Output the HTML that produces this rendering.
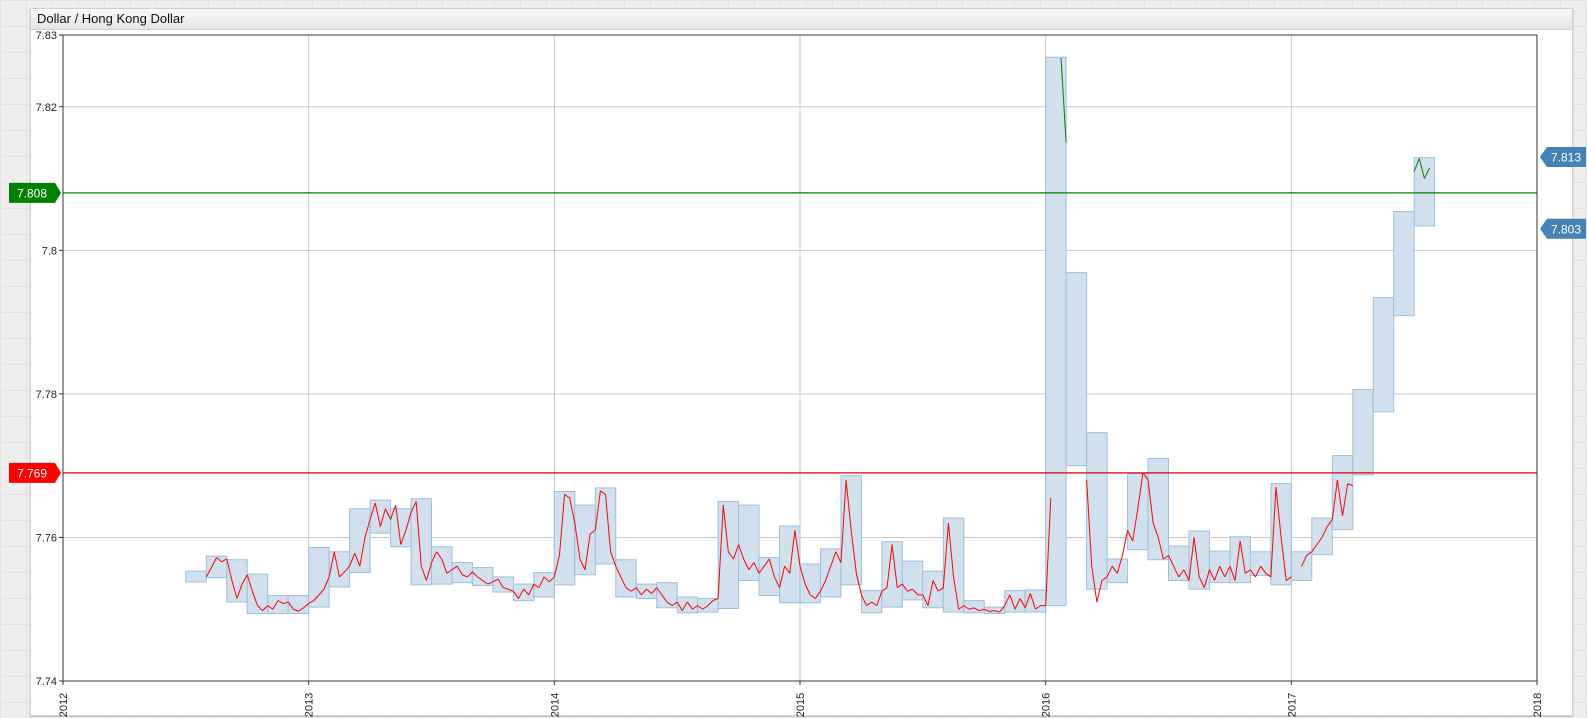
<!DOCTYPE html>
<html><head><meta charset="utf-8">
<style>
body{margin:0;width:1587px;height:718px;overflow:hidden;background:#eeeeee;
background-image:linear-gradient(#e2e2e2 1px,transparent 1px),linear-gradient(90deg,#e2e2e2 1px,transparent 1px);background-size:26px 26px;font-family:"Liberation Sans",sans-serif;}
#panel{position:absolute;left:30px;top:8px;width:1541px;height:706px;background:#fff;border:1px solid #d0d0d0;box-shadow:0 1px 2px #bbb;}
#title{position:absolute;left:0;top:0;right:0;height:20px;background:linear-gradient(#fafafa,#e4e4e4);border-bottom:1px solid #d0d0d0;font-size:13px;line-height:20px;padding-left:6px;color:#111;}
svg{position:absolute;left:0;top:0;}
</style></head><body>
<div id="panel"><div id="title">Dollar / Hong Kong Dollar</div></div>
<svg id="chart" width="1587" height="718"></svg>
<script>
const yTicks=[7.83,7.82,7.8,7.78,7.76,7.74];
const yTickLabels=["7.83","7.82","7.8","7.78","7.76","7.74"];
const xYears=[2012,2013,2014,2015,2016,2017,2018];
const boxStartMonth=6;
const boxHighs=[7.7553,7.7574,7.7569,7.7549,7.7519,7.7519,7.7586,7.7580,7.7640,7.7652,7.7640,7.7654,7.7587,7.7565,7.7558,7.7545,7.7535,7.7551,7.7664,7.7645,7.7669,7.7569,7.7535,7.7537,7.7517,7.7515,7.7650,7.7645,7.7572,7.7616,7.7563,7.7584,7.7686,7.7526,7.7594,7.7567,7.7553,7.7627,7.7512,7.7503,7.7526,7.7527,7.8269,7.7969,7.7746,7.7570,7.7689,7.7710,7.7588,7.7609,7.7581,7.7601,7.7580,7.7675,7.7580,7.7627,7.7714,7.7806,7.7934,7.8054,7.8129];
const boxLows=[7.7538,7.7544,7.7510,7.7494,7.7494,7.7494,7.7503,7.7531,7.7551,7.7606,7.7587,7.7534,7.7535,7.7537,7.7533,7.7524,7.7512,7.7517,7.7534,7.7548,7.7563,7.7517,7.7515,7.7502,7.7495,7.7496,7.7501,7.7540,7.7519,7.7509,7.7509,7.7517,7.7534,7.7495,7.7503,7.7513,7.7502,7.7496,7.7495,7.7494,7.7496,7.7496,7.7505,7.7700,7.7528,7.7537,7.7583,7.7569,7.7540,7.7528,7.7537,7.7537,7.7547,7.7534,7.7540,7.7576,7.7611,7.7687,7.7775,7.7909,7.8034];
const lineStartMonth=7;
const closes=[
7.7545,7.7558,7.7572,7.7566, 7.7570,7.7540,7.7515,7.7535, 7.7548,7.7525,7.7505,7.7498, 7.7505,7.7500,7.7512,7.7508,
7.7510,7.7500,7.7497,7.7502, 7.7508,7.7512,7.7520,7.7528, 7.7545,7.7580,7.7545,7.7552, 7.7560,7.7578,7.7560,7.7600,
7.7625,7.7648,7.7615,7.7640, 7.7625,7.7645,7.7590,7.7610, 7.7635,7.7650,7.7560,7.7540, 7.7565,7.7580,7.7570,7.7550,
7.7555,7.7560,7.7548,7.7545, 7.7552,7.7545,7.7540,7.7535, 7.7538,7.7542,7.7530,7.7528, 7.7525,7.7515,7.7528,7.7520,
7.7535,7.7530,7.7545,7.7538, 7.7545,7.7575,7.7660,7.7655, 7.7620,7.7570,7.7555,7.7605, 7.7610,7.7665,7.7660,7.7580,
7.7560,7.7545,7.7530,7.7525, 7.7530,7.7520,7.7528,7.7522, 7.7530,7.7520,7.7510,7.7505, 7.7510,7.7498,7.7510,7.7500,
7.7505,7.7500,7.7505,7.7512, 7.7515,7.7645,7.7580,7.7570, 7.7590,7.7570,7.7555,7.7565, 7.7550,7.7560,7.7570,7.7545,
7.7530,7.7560,7.7550,7.7610, 7.7560,7.7535,7.7520,7.7515, 7.7525,7.7540,7.7560,7.7580, 7.7565,7.7680,7.7610,7.7550,
7.7520,7.7505,7.7510,7.7505, 7.7525,7.7530,7.7590,7.7530, 7.7535,7.7525,7.7528,7.7520, 7.7520,7.7505,7.7540,7.7525,
7.7530,7.7620,7.7545,7.7500, 7.7505,7.7500,7.7502,7.7498, 7.7500,7.7497,7.7498,7.7496, 7.7505,7.7520,7.7500,7.7515,
7.7502,7.7522,7.7500,7.7505, 7.7505,7.7655,null,7.8268, 7.8150,null,null,null, 7.7680,7.7560,7.7510,7.7540,
7.7545,7.7560,7.7550,7.7575, 7.7610,7.7595,7.7640,7.7690, 7.7680,7.7620,7.7600,7.7570, 7.7575,7.7560,7.7545,7.7555,
7.7540,7.7600,7.7545,7.7530, 7.7555,7.7540,7.7560,7.7545, 7.7560,7.7540,7.7595,7.7550, 7.7555,7.7545,7.7560,7.7550,
7.7545,7.7670,7.7600,7.7540, 7.7545,null,7.7560,7.7575, 7.7580,7.7590,7.7600,7.7615, 7.7625,7.7680,7.7630,7.7675,
7.7672,null,null,null, null,null,null,null, null,null,null,null, 7.8110,7.8128,7.8100,7.8115];
const greenLevel=7.808, redLevel=7.769;
const tagValues=[7.813,7.803];

const L=63,R=1537,T=35,B=681;
const yMin=7.74,yMax=7.83;
function y(v){return T+(yMax-v)/(yMax-yMin)*(B-T);}
function xYear(yr){return L+(yr-2012)/6*(R-L);}
function xMonth(m){return L+m/72*(R-L);}
const NS="http://www.w3.org/2000/svg";
const svg=document.getElementById('chart');
function mk(t,a,p){const e=document.createElementNS(NS,t);for(const k in a)e.setAttribute(k,a[k]);(p||svg).appendChild(e);return e;}

yTicks.forEach((v,i)=>{
 const g=mk('line',{x1:L,x2:R,y1:y(v),y2:y(v),stroke:'#c8c8c8','stroke-width':1});
 
 
 const t=mk('text',{x:L-6,y:y(v)+4,'text-anchor':'end','font-size':11,fill:'#222'});
 t.textContent=yTickLabels[i];
 
 
 mk('line',{x1:L-4,x2:L,y1:y(v),y2:y(v),stroke:'#333'});
});
xYears.forEach(yr=>{
 const x=xYear(yr);
 const g=mk('line',{x1:x,x2:x,y1:T,y2:B,stroke:'#c8c8c8','stroke-width':1});
 
 
 mk('line',{x1:x,x2:x,y1:B,y2:B+4,stroke:'#333'});
 const t=mk('text',{transform:`translate(${x+4},${B+24}) rotate(-90)`,'text-anchor':'middle','font-size':11,fill:'#222'});
 t.textContent=yr;
 
 
});

const bg=mk('g',{});


boxHighs.forEach((h,i)=>{
 const m=boxStartMonth+i;
 const r=mk('rect',{x:xMonth(m),y:y(h),width:xMonth(m+1)-xMonth(m),height:y(boxLows[i])-y(h),fill:'#d0e0ee',stroke:'#9fbfd9','stroke-width':1},bg);
 
 
});

const gl=mk('line',{x1:L,x2:R,y1:y(greenLevel),y2:y(greenLevel),stroke:'#008000','stroke-width':1.3});


const rl=mk('line',{x1:L,x2:R,y1:y(redLevel),y2:y(redLevel),stroke:'#e00000','stroke-width':1.3});



let prev=null;
closes.forEach((v,i)=>{
 const x=xMonth(lineStartMonth+i/4);
 if(v!==null&&prev!==null){
  const col=(v>greenLevel&&prev.v>greenLevel)?'#008000':'#ff0000';
  const s=mk('line',{x1:prev.x,y1:y(prev.v),x2:x,y2:y(v),stroke:col,'stroke-width':1});
  
  
 }
 prev=v===null?null:{x,v};
});

mk('line',{x1:L,x2:L,y1:T,y2:B,stroke:'#333'});
mk('line',{x1:R,x2:R,y1:T,y2:B,stroke:'#333'});
mk('line',{x1:L,x2:R,y1:T,y2:T,stroke:'#333'});
mk('line',{x1:L,x2:R,y1:B,y2:B,stroke:'#333'});

function leftTag(v,col,name){
 const yy=y(v);
 const p=mk('path',{d:`M9 ${yy-10}H55L61 ${yy}L55 ${yy+10}H9Z`,fill:col});
 
 
 const t=mk('text',{x:32,y:yy+4.5,'text-anchor':'middle','font-size':12,fill:'#fff'});
 t.textContent=v.toFixed(3);
 
 
}
leftTag(greenLevel,'#008000','upper-level-tag');
leftTag(redLevel,'#ff0000','lower-level-tag');
tagValues.forEach(v=>{
 const yy=y(v);
 const p=mk('path',{d:`M1540 ${yy}L1547 ${yy-10}H1586V${yy+10}H1547Z`,fill:'#4682b4'});
 
 
 const t=mk('text',{x:1566,y:yy+4.5,'text-anchor':'middle','font-size':12,fill:'#fff'});
 t.textContent=v.toFixed(3);
 
 
});
</script>
</body></html>
